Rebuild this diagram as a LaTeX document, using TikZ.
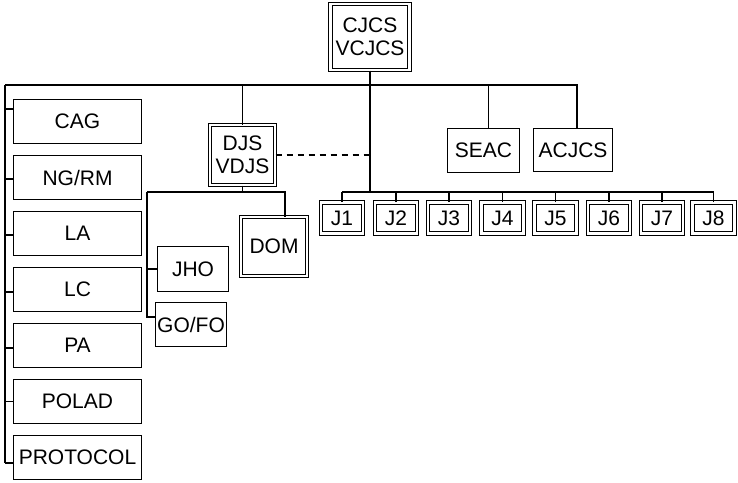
\documentclass[tikz,border=0pt]{standalone}
\usepackage{fontspec}
\setmainfont{Liberation Sans}
\usepackage{tikz}

\begin{document}
\begin{tikzpicture}
  [x=1pt,y=-1pt,line width=1.1pt,
   every node/.style={draw,line width=1.2pt,inner sep=0pt,align=center,
     font=\fontsize{21}{23.5}\selectfont},
   lbox/.style={minimum width=128pt,minimum height=44pt},
   dbox/.style={double,line width=1pt,double distance=2.4pt},
   jbox/.style={dbox,minimum width=42pt,minimum height=31pt}]
  \useasboundingbox (0,0) rectangle (738,482);
  % top
  \node[dbox,minimum width=79pt,minimum height=66pt] (cjcs) at (370,37) {CJCS\\VCJCS};
  % staff column
  \node[lbox] (cag) at (77.5,121.5) {CAG};
  \node[lbox] (ngrm) at (77.5,177.5) {NG/RM};
  \node[lbox] (la) at (77.5,233.5) {LA};
  \node[lbox] (lc) at (77.5,289.5) {LC};
  \node[lbox] (pa) at (77.5,345.5) {PA};
  \node[lbox] (polad) at (77.5,401.5) {POLAD};
  \node[lbox] (protocol) at (77.5,457.5) {PROTOCOL};
  % DJS group
  \node[dbox,minimum width=65pt,minimum height=60pt] (djs) at (242.5,155) {DJS\\VDJS};
  \node[dbox,minimum width=66pt,minimum height=59pt] (dom) at (274,246.5) {DOM};
  \node[minimum width=71pt,minimum height=45pt] (jho) at (193,269) {JHO};
  \node[minimum width=71pt,minimum height=44pt] (gofo) at (191,324.5) {GO/FO};
  \node[minimum width=72pt,minimum height=44pt] (seac) at (483.5,150.5) {SEAC};
  \node[minimum width=79pt,minimum height=43pt] (acjcs) at (573,150) {ACJCS};
  % directorates
  \foreach \n/\x in {1/342,2/396,3/449,4/502.5,5/555.5,6/609,7/662,8/713.5}
    \node[jbox] (j\n) at (\x,218) {J\n};

  \coordinate (lt) at (5,85);
  \coordinate (lb) at (5,463);
  \coordinate (rt) at (577,85);
  \coordinate (jl) at (342,192);
  \coordinate (jr) at (713.5,192);
  \coordinate (dl) at (147,192);
  \coordinate (dr) at (285,192);

  \draw (lt) -- (rt) -- (rt |- acjcs.north);
  \draw (lt) -- (lb);
  \foreach \n/\dy in {cag/12.5,ngrm/-1.5,la/-1.5,lc/-2.5,pa/-2.5,polad/0,protocol/-5.5}
    \draw ([yshift=\dy pt]\n.west) -- ++(-8,0);
  \draw (djs.north) -- (djs.north |- lt);
  \draw ([xshift=5pt]seac.north) -- ([xshift=5pt]seac.north |- lt);
  \draw (cjcs.south) -- (cjcs.south |- jl);
  \draw (jl) -- (jr);
  \foreach \n in {1,...,8}
    \draw (j\n.north) -- (j\n.north |- jl);
  \draw[dash pattern=on 6pt off 5pt] (djs.east) -- (djs.east -| cjcs.south);
  \draw (djs.south) -- (djs.south |- dl);
  \draw (dl) -- (dr) -- (dr |- dom.north);
  \draw (dl) |- (jho.west);
  \draw (dl) |- ([yshift=7.5pt]gofo.west);
\end{tikzpicture}
\end{document}
